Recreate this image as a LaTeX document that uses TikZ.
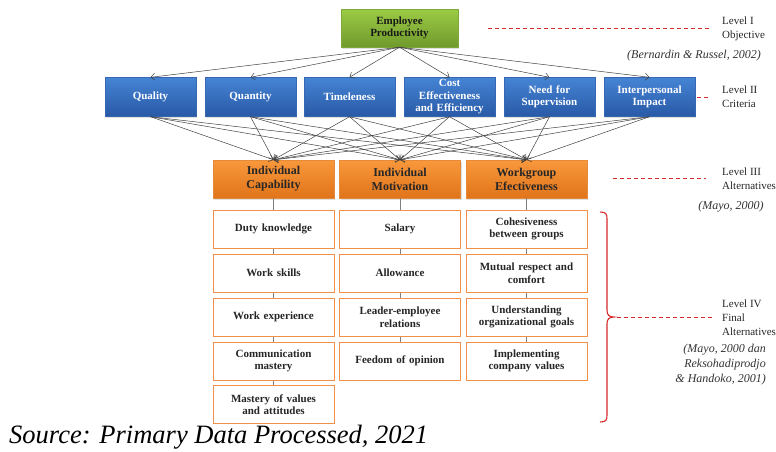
\documentclass[tikz,border=0pt]{standalone}
\usepackage{fontspec}
\setmainfont{Liberation Serif}
\usetikzlibrary{arrows.meta,shadows}
\definecolor{gTop}{HTML}{9CCB45}
\definecolor{gBot}{HTML}{6F9A2C}
\definecolor{gDraw}{HTML}{7DA83A}
\definecolor{bTop}{HTML}{4584D4}
\definecolor{bBot}{HTML}{2859A6}
\definecolor{bDraw}{HTML}{3567B3}
\definecolor{oTop}{HTML}{F9983C}
\definecolor{oBot}{HTML}{E0741A}
\definecolor{oDraw}{HTML}{E58A3A}
\definecolor{oLine}{HTML}{F0904A}
\definecolor{arr}{HTML}{404040}
\definecolor{lvl}{HTML}{D42A2A}
\tikzset{
  boxfont/.style={font=\fontsize{11}{12.5}\selectfont\bfseries, align=center},
  topbox/.style={boxfont, top color=gTop, bottom color=gBot, draw=gDraw, text=black!90,
    minimum width=117pt, minimum height=38pt, text width=112pt, inner sep=1pt,
    drop shadow={shadow xshift=1pt, shadow yshift=-1.5pt, opacity=0.25}},
  critbox/.style={boxfont, top color=bTop, bottom color=bBot, draw=bDraw, text=white,
    minimum width=91pt, minimum height=39pt, text width=89pt, inner sep=1pt,
    drop shadow={shadow xshift=1pt, shadow yshift=-1.5pt, opacity=0.25}},
  altbox/.style={boxfont, font=\fontsize{12}{14}\selectfont\bfseries, top color=oTop, bottom color=oBot, draw=oDraw, text=black!85,
    minimum width=121pt, minimum height=38pt, text width=117pt, inner sep=1pt,
    drop shadow={shadow xshift=1pt, shadow yshift=-1.5pt, opacity=0.25}},
  subbox/.style={boxfont, fill=white, draw=oLine, line width=1pt, text=black!85,
    minimum width=121pt, minimum height=38pt, text width=117pt, inner sep=1pt},
  arrowline/.style={draw=arr, line width=0.5pt, -{Straight Barb[length=4pt,width=7pt]}},
  vline/.style={draw=black!50, line width=0.8pt},
  lvldash/.style={draw=lvl, line width=0.9pt, dash pattern=on 4pt off 3pt},
  lvltext/.style={font=\fontsize{11}{14}\selectfont, align=left, anchor=west, inner sep=0pt, text=black!85},
  citetext/.style={font=\fontsize{12}{15}\selectfont\itshape, inner sep=0pt, text=black!80},
}
\begin{document}
\begin{tikzpicture}[x=1pt,y=-1pt]
\useasboundingbox (0,0) rectangle (776,451);
% Level I
\node[topbox] (ep) at (399.5,28) {Employee\\Productivity};
% Level II
\node[critbox] (c1) at (150.5,97) {Quality};
\node[critbox] (c2) at (250.5,97) {Quantity};
\node[critbox] (c3) at (349.5,97) {Timeleness};
\node[critbox] (c4) at (449.5,97) {Cost\\Effectiveness\\and Efficiency};
\node[critbox] (c5) at (549.5,97) {Need for\\Supervision};
\node[critbox] (c6) at (649.5,97) {Interpersonal\\Impact};
% Level III
\node[altbox] (a1) at (273.5,179) {Individual\\Capability};
\node[altbox] (a2) at (400,179) {Individual\\Motivation};
\node[altbox] (a3) at (526.5,179) {Workgroup\\Efectiveness};
% Arrows level I -> II
\foreach \c in {c1,c2,c3,c4,c5,c6}
  \draw[arrowline] (ep.south) -- (\c.north);
% Arrows level II -> III
\foreach \c in {c1,c2,c3,c4,c5,c6}
  \foreach \a in {a1,a2,a3}
    \draw[arrowline] (\c.south) -- (\a.north);
% Level IV column 1
\node[subbox] (s11) at (273.5,229) {Duty knowledge};
\node[subbox] (s12) at (273.5,273) {Work skills};
\node[subbox] (s13) at (273.5,317) {Work experience};
\node[subbox] (s14) at (273.5,361) {Communication\\mastery};
\node[subbox] (s15) at (273.5,404.5) {Mastery of values\\and attitudes};
% column 2
\node[subbox] (s21) at (400,229) {Salary};
\node[subbox] (s22) at (400,273) {Allowance};
\node[subbox] (s23) at (400,317) {Leader-employee\\relations};
\node[subbox] (s24) at (400,361) {Feedom of opinion};
% column 3
\node[subbox] (s31) at (526.5,229) {Cohesiveness\\between groups};
\node[subbox] (s32) at (526.5,273) {Mutual respect and\\comfort};
\node[subbox] (s33) at (526.5,317) {Understanding\\organizational goals};
\node[subbox] (s34) at (526.5,361) {Implementing\\company values};
% vertical connectors
\draw[vline] (a1.south) -- (s11.north);
\draw[vline] (s11.south) -- (s12.north);
\draw[vline] (s12.south) -- (s13.north);
\draw[vline] (s13.south) -- (s14.north);
\draw[vline] (s14.south) -- (s15.north);
\draw[vline] (a2.south) -- (s21.north);
\draw[vline] (s21.south) -- (s22.north);
\draw[vline] (s22.south) -- (s23.north);
\draw[vline] (s23.south) -- (s24.north);
\draw[vline] (a3.south) -- (s31.north);
\draw[vline] (s31.south) -- (s32.north);
\draw[vline] (s32.south) -- (s33.north);
\draw[vline] (s33.south) -- (s34.north);
% level labels
\coordinate (d1s) at (488,28);
\coordinate (d1e) at (711,28);
\draw[lvldash] (d1s) -- (d1e);
\node[lvltext] (l1) at (722,29) {Level I\\Objective};
\node[citetext] (cit1) at (694,56) {(Bernardin \& Russel, 2002)};
\coordinate (d2e) at (711,97);
\draw[lvldash] (c6.east) ++(2,0) -- (d2e);
\node[lvltext] (l2) at (722,97) {Level II\\Criteria};
\coordinate (d3s) at (613,178);
\coordinate (d3e) at (706,178);
\draw[lvldash] (d3s) -- (d3e);
\node[lvltext] (l3) at (722,178.5) {Level III\\Alternatives};
\node[citetext] (cit3) at (731,207) {(Mayo, 2000)};
% brace
\coordinate (bt) at (600,212);
\coordinate (bm) at (614,317);
\coordinate (bb) at (600,422);
\draw[draw=lvl, line width=1.1pt] (bt) .. controls (606,212) and (607,214) .. (607,219) -- (607,310)
  .. controls (607,315) and (609,317) .. (bm) .. controls (609,317) and (607,319) .. (607,324)
  -- (607,415) .. controls (607,420) and (606,422) .. (bb);
\coordinate (d4e) at (714,317);
\draw[lvldash] (bm) ++(3,0) -- (d4e);
\node[lvltext] (l4) at (722,317.5) {Level IV\\Final\\Alternatives};
\node[citetext, align=right, anchor=east] (cit4) at (766,365) {(Mayo, 2000 dan\\Reksohadiprodjo\\\& Handoko, 2001)};
% source
\node[font=\fontsize{26.5}{29}\selectfont\itshape, anchor=west, inner sep=0pt] (src) at (9,437) {Source: Primary Data Processed, 2021};
\end{tikzpicture}
\end{document}
